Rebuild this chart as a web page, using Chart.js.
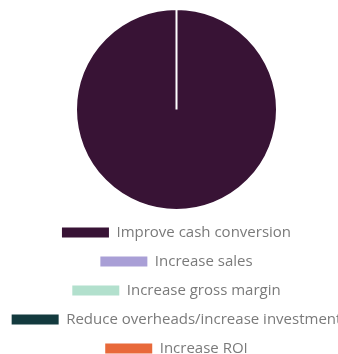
<!DOCTYPE html>
<html>
<head>
<meta charset="utf-8">
<script src="https://cdn.jsdelivr.net/npm/chart.js@4"></script>
<style>
  html, body { margin: 0; padding: 0; background: #fff; overflow: hidden; }
  #wrap { position: relative; width: 353px; height: 366px; }
</style>
</head>
<body>
<div id="wrap"><canvas id="pie"></canvas></div>
<script>
// categories and values
const categories = [
  "Improve cash conversion",
  "Increase sales",
  "Increase gross margin",
  "Reduce overheads/increase investment",
  "Increase ROI",
];
const values = [1, 0, 0, 0, 0];
const colors = ["#381335", "#a99fd6", "#b2e0cd", "#133a3e", "#e8693a"];

const ctx = document.getElementById("pie").getContext("2d");
new Chart(ctx, {
  type: "pie",
  data: {
    labels: categories,
    datasets: [
      {
        data: values,
        backgroundColor: colors,
        borderColor: "#ffffff",
        borderWidth: 2,
      },
    ],
  },
  options: {
    responsive: true,
    maintainAspectRatio: false,
    animation: false,
    layout: { padding: { top: 8, bottom: 0 } },
    plugins: {
      tooltip: { enabled: false },
      legend: {
        position: "bottom",
        labels: {
          boxWidth: 47,
          boxHeight: 10,
          padding: 14,
          color: "#7a7a7a",
          font: { family: "'Open Sans', sans-serif", size: 15 },
          // solid swatches, no white stroke around them
          generateLabels: (chart) =>
            Chart.overrides.pie.plugins.legend.labels
              .generateLabels(chart)
              .map((item) => ({ ...item, lineWidth: 0 })),
        },
      },
    },
  },
});
</script>
</body>
</html>
